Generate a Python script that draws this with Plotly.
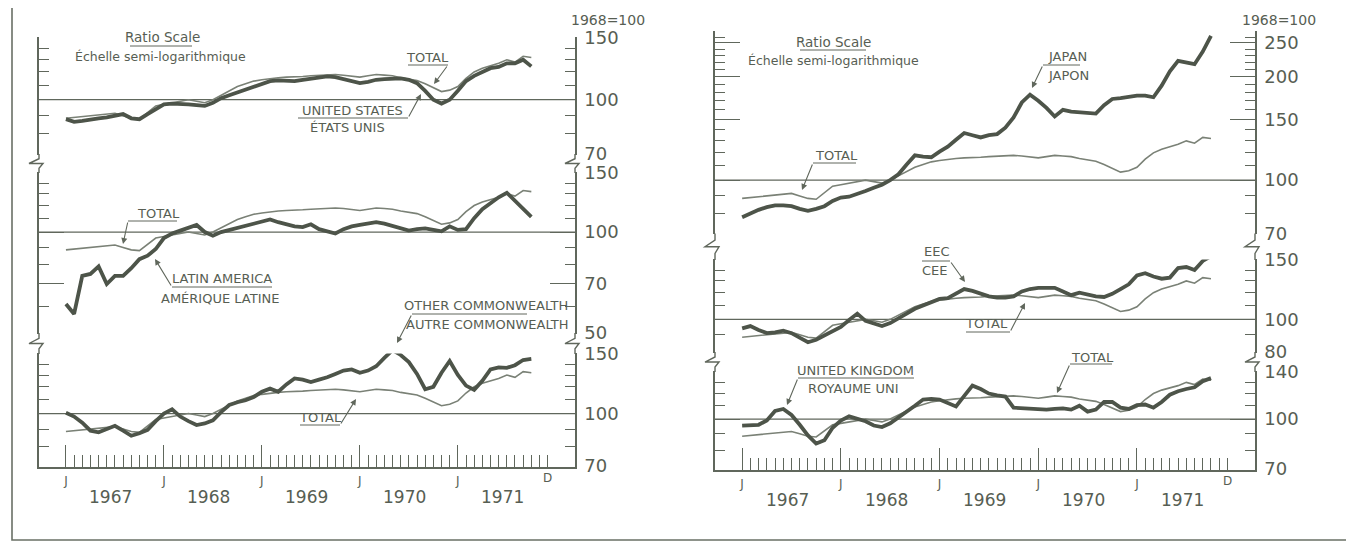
import math
import plotly.graph_objects as go

W, H = 1354, 544

# ---------------- data (monthly index numbers, 1968 = 100) ----------------
months = ["1967-01", "1967-02", "1967-03", "1967-04", "1967-05", "1967-06", "1967-07", "1967-08", "1967-09", "1967-10", "1967-11", "1967-12",
          "1968-01", "1968-02", "1968-03", "1968-04", "1968-05", "1968-06", "1968-07", "1968-08", "1968-09", "1968-10", "1968-11", "1968-12",
          "1969-01", "1969-02", "1969-03", "1969-04", "1969-05", "1969-06", "1969-07", "1969-08", "1969-09", "1969-10", "1969-11", "1969-12",
          "1970-01", "1970-02", "1970-03", "1970-04", "1970-05", "1970-06", "1970-07", "1970-08", "1970-09", "1970-10", "1970-11", "1970-12",
          "1971-01", "1971-02", "1971-03", "1971-04", "1971-05", "1971-06", "1971-07", "1971-08", "1971-09", "1971-10"]

total = [88.5, 89, 89.5, 90, 90.5, 91, 91.5, 90, 88.5, 88, 92, 96,
         97, 98, 99, 100, 99, 98, 100, 103, 106, 109, 111, 113,
         114, 115, 115.5, 116, 116, 116.5, 117, 117.5, 118, 118, 117.5, 116.5,
         116, 117, 118, 117.5, 117, 115.5, 114.5, 113.5, 111, 108, 105.5, 106.5,
         109, 115, 120, 123, 125, 127, 130, 128, 133, 132]

united_states = [88, 86.5, 87, 88, 88.5, 89, 90, 91, 88.5, 88, 91, 94,
                 97, 97.5, 97.5, 97, 96.5, 96, 98, 101, 103, 105, 107, 109,
                 111, 113, 113.5, 113, 113, 114, 115, 116, 116.5, 116, 114.5, 112.5,
                 111.5, 112.5, 114, 114.5, 115, 115, 114, 111.5, 106, 100, 97.5, 100,
                 106, 113, 117, 120, 123, 124, 127, 127, 130, 124.5]

latin_america = [61, 57, 74, 75, 79, 70, 74, 74, 78, 83, 85, 89,
                 96, 99, 101, 103, 105, 100, 97.5, 100, 101.5, 103, 104, 106,
                 107.5, 109, 107, 105.5, 104, 103.5, 105.5, 102, 100.5, 99, 102, 104,
                 105, 106, 107, 106, 104.5, 103, 101, 102, 102.5, 101.5, 100.5, 104,
                 101.5, 102, 110, 117, 122, 127, 131, 124, 117, 111]

other_commonwealth = [100.5, 98, 94, 89, 88, 90, 92, 89, 86, 87.5, 89.5, 95,
                      100, 103, 98, 95, 92.5, 93.5, 95.5, 101, 106, 108, 109.5, 112,
                      116, 118.5, 116, 122, 127, 126, 124, 126, 128, 131, 134, 135,
                      132, 134, 138, 146, 154, 149, 142, 131, 118, 120, 132, 143,
                      130, 121, 117.5, 125, 135, 137, 136.5, 139, 144, 145]

japan = [78, 80, 82, 83.5, 84.5, 84.5, 84, 82.5, 81.5, 82.5, 84, 87,
         89, 89.5, 91, 93, 95, 97, 100, 104, 111, 118, 117, 116.5,
         121, 125, 131, 137, 135, 133, 135, 136, 142, 152, 168, 177,
         170, 162, 153, 160, 158, 157, 156.5, 156, 165, 172, 173, 175,
         176, 176, 174, 188, 207, 222, 220, 217, 236, 262]

eec = [94, 95.5, 93, 91, 91.5, 92.5, 91, 88, 85.5, 87, 89.5, 92,
       95, 99.5, 104, 99, 97, 95.5, 97.5, 101, 104, 107.5, 110, 113,
       115, 115.5, 119, 123, 121.5, 119.5, 117, 116, 116, 117, 121, 123,
       124, 124, 124, 121, 118, 120, 118.5, 117, 116.5, 119, 123, 127,
       135, 137, 134, 132, 133, 142, 143, 140, 149, 154]

united_kingdom = [95.5, 95.5, 96, 99, 106, 107.5, 103, 96, 89, 84, 86, 94,
                  99, 102, 100, 98.5, 95.5, 94.5, 97, 101, 106, 110, 115, 115.5,
                  115, 112, 109.5, 118, 127, 124, 120, 118.5, 117.5, 108.5, 108, 108,
                  107.5, 107, 107.5, 108, 107, 110, 105.5, 107, 113, 113, 108.5, 107.5,
                  110.5, 111, 108.5, 113, 119, 122, 124, 125.5, 131, 134]

year_labels = ["1967", "1968", "1969", "1970", "1971"]
month_letters_first = "J"
month_letter_last = "D"

# ---------------- styling ----------------
INK = '#4d5449'
THIN = '#7a8176'
AX = '#60675c'
TXT = '#575e53'
BG = '#ffffff'
FONT = 'DejaVu Sans'

x_idx = list(range(len(months)))
XR = [-3.3, 62.35]

# the page places the figure 8 px in from the top-left corner
OX, OY = 8.0, 8.0


def fx(p):
    return (p - OX) / W


def fy(p):
    return 1 - (p - OY) / H


def vpix(v, a, b):
    (va, ya), (vb, yb) = a, b
    return ya + (math.log(va) - math.log(v)) * (yb - ya) / (math.log(va) - math.log(vb))


# key, x-axis, series, ref point a, ref point b, min value, max value, labelled ticks
subs = [
    ('y', 'x', united_states, (150, 38), (70, 154), 70, 150, [150, 100, 70]),
    ('y2', 'x', latin_america, (150, 173), (50, 333), 50, 150, [150, 100, 70, 50]),
    ('y3', 'x', other_commonwealth, (150, 354), (70, 466), 70, 150, [150, 100, 70]),
    ('y4', 'x2', japan, (250, 43), (70, 233.5), 70, 270, [250, 200, 150, 100, 70]),
    ('y5', 'x2', eec, (150, 260), (80, 352), 80, 150, [150, 100, 80]),
    ('y6', 'x2', united_kingdom, (140, 372), (70, 469), 70, 140, [140, 100, 70]),
]

fig = go.Figure()
layout_axes = {}
shapes = []

for key, xk, series, a, b, vmin, vmax, labels in subs:
    lo, hi = vmin * 0.996, vmax * 1.004
    ylo, yhi = vpix(lo, a, b), vpix(hi, a, b)
    minor_vals = list(range(int(vmin), int(vmax) + 1, 10))
    layout_axes['yaxis' + key[1:]] = dict(
        type='log', domain=[fy(ylo), fy(yhi)], automargin=False,
        range=[math.log10(lo), math.log10(hi)],
        anchor=xk, side='right', showline=True, linecolor=AX, linewidth=1.5,
        mirror='ticks', ticks='inside', ticklen=25, tickwidth=1.3, tickcolor=AX,
        tickmode='array', tickvals=labels, ticktext=[str(v) for v in labels],
        tickfont=dict(family=FONT, size=18, color=TXT), ticklabelstandoff=4,
        showgrid=False, zeroline=False,
        minor=dict(tickmode='array', tickvals=minor_vals, ticks='inside', ticklen=10,
                   tickwidth=1.2, tickcolor=AX, showgrid=False),
    )
    # 100 reference line
    fig.add_trace(go.Scatter(x=XR, y=[100, 100], mode='lines', xaxis=xk, yaxis=key,
                             line=dict(color=AX, width=1.3), hoverinfo='skip', showlegend=False))
    fig.add_trace(go.Scatter(x=x_idx, y=total, mode='lines', xaxis=xk, yaxis=key,
                             line=dict(color=THIN, width=1.6), showlegend=False, name='TOTAL'))
    fig.add_trace(go.Scatter(x=x_idx, y=series, mode='lines', xaxis=xk, yaxis=key,
                             line=dict(color=INK, width=3.8), showlegend=False))

for xk, dom, anchor in [('xaxis', [39, 575], 'y3'), ('xaxis2', [715, 1255], 'y6')]:
    layout_axes[xk] = dict(
        domain=[fx(dom[0]), fx(dom[1])], range=XR, anchor=anchor, automargin=False,
        showline=True, linecolor=AX, linewidth=1.5, ticks='inside', ticklen=22,
        tickwidth=1.3, tickcolor=AX, tickmode='array', tickvals=[0, 12, 24, 36, 48],
        ticktext=[month_letters_first] * 5, tickfont=dict(family=FONT, size=12, color=TXT),
        ticklabelstandoff=2, showgrid=False, zeroline=False,
        minor=dict(tickmode='array', tickvals=list(range(60)), ticks='inside', ticklen=12,
                   tickwidth=1.2, tickcolor=AX, showgrid=False),
    )

annotations = []


def text(t, x, y, size=13):
    annotations.append(dict(text=t, x=fx(x), y=fy(y), xref='paper', yref='paper',
                            showarrow=False, xanchor='center', yanchor='middle',
                            font=dict(family=FONT, size=size, color=TXT)))


def uline(x0, x1, y):
    shapes.append(dict(type='line', xref='paper', yref='paper', x0=fx(x0), x1=fx(x1),
                       y0=fy(y), y1=fy(y), line=dict(color=AX, width=1)))


def leader(x0, y0, xt, yt):
    annotations.append(dict(text='', x=fx(xt), y=fy(yt), xref='paper', yref='paper',
                            ax=x0 - xt, ay=y0 - yt, axref='pixel', ayref='pixel',
                            showarrow=True, arrowhead=2, arrowsize=1.1, arrowwidth=1.1,
                            arrowcolor=AX, standoff=0))


# year labels and "D"
for k, yl in enumerate(year_labels):
    for xk, ypx in [('x', 497), ('x2', 500)]:
        annotations.append(dict(text=yl, x=5.5 + 12 * k, y=fy(ypx), xref=xk, yref='paper',
                                xanchor='center', yanchor='middle', showarrow=False,
                                font=dict(family=FONT, size=17, color=TXT)))
for xk, ypx in [('x', 478), ('x2', 481)]:
    annotations.append(dict(text=month_letter_last, x=59, y=fy(ypx), xref=xk, yref='paper',
                            xanchor='center', yanchor='middle', showarrow=False,
                            font=dict(family=FONT, size=12, color=TXT)))

# left panel labels
text('Ratio Scale', 162, 37, 13.5)
uline(130, 192, 46)
text('Échelle semi-logarithmique', 160, 56, 12.5)
text('1968=100', 608, 20, 14)
text('TOTAL', 427, 57)
uline(408, 448, 65)
leader(448, 65, 434, 84)
text('UNITED STATES', 352, 110)
text('ÉTATS UNIS', 347, 127)
uline(298, 408, 118)
leader(408, 118, 421, 94)

text('TOTAL', 158, 213)
uline(128, 177, 221)
leader(128, 221, 123, 244)
text('LATIN AMERICA', 222, 278)
text('AMÉRIQUE LATINE', 220, 298)
uline(172, 272, 287)
leader(172, 287, 155, 259)

text('OTHER COMMONWEALTH', 486, 305)
text('AUTRE COMMONWEALTH', 487, 324)
uline(412, 527, 314)
leader(412, 314, 397, 343)
text('TOTAL', 320, 417)
uline(300, 340, 425)
leader(340, 425, 356, 399)

# right panel labels
text('Ratio Scale', 833, 42, 13.5)
uline(800, 866, 50)
text('Échelle semi-logarithmique', 833, 61, 12.5)
text('1968=100', 1279, 20, 14)
text('TOTAL', 836, 156)
uline(813, 856, 163)
leader(813, 163, 802, 190)
text('JAPAN', 1067, 56)
text('JAPON', 1068, 75)
uline(1043, 1080, 65)
leader(1043, 65, 1032, 88)

text('EEC', 937, 252)
text('CEE', 935, 270)
uline(922, 950, 261)
leader(950, 261, 965, 282)
text('TOTAL', 987, 323)
uline(966, 1010, 332)
leader(1010, 332, 1025, 303)

text('UNITED KINGDOM', 856, 370)
text('ROYAUME UNI', 853, 388)
uline(798, 914, 378)
leader(798, 378, 787, 405)
text('TOTAL', 1092, 357)
uline(1070, 1112, 364)
leader(1070, 364, 1057, 393)


# axis breaks (zig-zags between stacked scales)
def brk(x, y1, y2):
    g = y2 - y1
    pts = [(x, y1), (x, y1 + g * 0.25), (x - 10, y1 + g * 0.5), (x + 4, y1 + g * 0.5),
           (x, y1 + g * 0.75), (x, y2)]
    d = 'M ' + ' L '.join(f'{fx(px):.5f},{fy(py):.5f}' for px, py in pts)
    shapes.append(dict(type='path', xref='paper', yref='paper', path=d,
                       line=dict(color=AX, width=1.4)))


for xb in (39, 575):
    brk(xb, 154, 173)
    brk(xb, 333, 354)
for xb in (715, 1255):
    brk(xb, 233.5, 260)
    brk(xb, 352, 372)

# outer frame (top edge lies above the page)
shapes.append(dict(type='rect', xref='paper', yref='paper', x0=fx(12), x1=fx(1347),
                   y0=fy(540), y1=fy(-60), line=dict(color='#6a7066', width=1.6)))

fig.update_layout(
    width=W, height=H, margin=dict(l=0, r=0, t=0, b=0, autoexpand=False),
    paper_bgcolor=BG, plot_bgcolor='rgba(0,0,0,0)', showlegend=False,
    annotations=annotations, shapes=shapes, **layout_axes,
)

fig.write_html('out.html')
